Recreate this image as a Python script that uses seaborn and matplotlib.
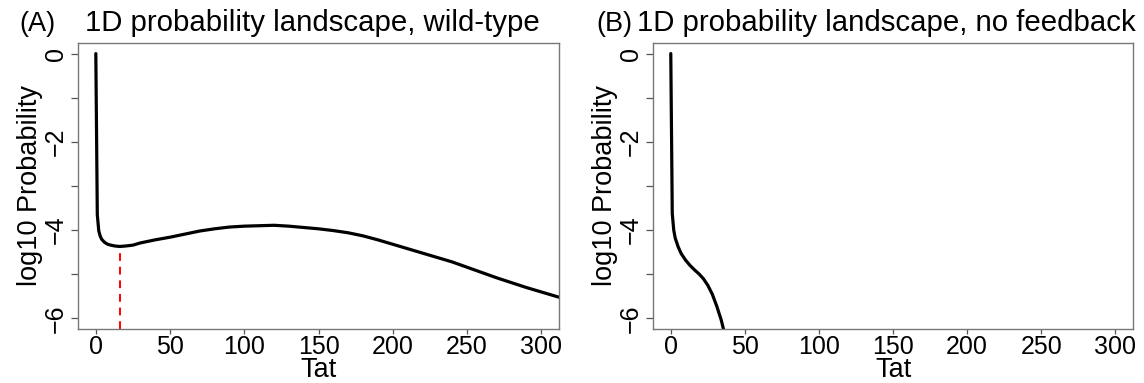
import numpy as np
import pandas as pd
import matplotlib
matplotlib.use("Agg")
import matplotlib.pyplot as plt
import seaborn as sns

# ---- data ----
wt_tat = [0, 1, 2, 3, 4, 6, 8, 10, 13, 16, 20, 25, 30, 40, 50, 60, 70, 80, 90, 100,
          110, 120, 130, 140, 150, 160, 170, 180, 190, 200, 210, 220, 230, 240, 250,
          260, 270, 280, 290, 300, 312]
wt_logp = [0.0, -3.65, -4.02, -4.14, -4.21, -4.28, -4.32, -4.34, -4.36, -4.37, -4.36,
           -4.34, -4.29, -4.22, -4.16, -4.09, -4.02, -3.97, -3.93, -3.91, -3.90, -3.89,
           -3.91, -3.94, -3.97, -4.01, -4.06, -4.13, -4.22, -4.32, -4.42, -4.52, -4.62,
           -4.72, -4.84, -4.96, -5.08, -5.19, -5.30, -5.40, -5.52]

nf_tat = [0, 1, 2, 3, 5, 7, 10, 13, 16, 19, 22, 25, 28, 31, 34, 36]
nf_logp = [0.0, -3.62, -4.00, -4.18, -4.38, -4.53, -4.68, -4.80, -4.90, -4.99, -5.10,
           -5.25, -5.45, -5.72, -6.03, -6.30]

panel_tags = ["(A)", "(B)"]
titles = ["1D probability landscape, wild-type",
          "1D probability landscape, no feedback"]
x_ticks = [0, 50, 100, 150, 200, 250, 300]
y_ticks = [-6, -5, -4, -3, -2, -1, 0]
y_ticklabels = ["\u22126", "", "\u22124", "", "\u22122", "", "0"]
x_label = "Tat"
y_label = "log10 Probability"

# ---- style ----
sns.set_theme(style="white")
plt.rcParams["font.family"] = ["Liberation Sans", "DejaVu Sans"]
for k in ["text.color", "axes.labelcolor", "xtick.color", "ytick.color"]:
    plt.rcParams[k] = "black"
FS_TICK = 18
FS_LAB = 19.5
FS_TITLE = 21.2
FS_TAG = 19.5

fig = plt.figure(figsize=(11.44, 3.83), dpi=100)
W, H = 1144, 383
ax_a = fig.add_axes([78 / W, (H - 329) / H, (559 - 78) / W, (329 - 43) / H])
ax_b = fig.add_axes([653 / W, (H - 329) / H, (1133 - 653) / W, (329 - 43) / H])

df_a = pd.DataFrame({"Tat": wt_tat, "logp": wt_logp})
df_b = pd.DataFrame({"Tat": nf_tat, "logp": nf_logp})

XL = (-12, 312)
YL = (-6.24, 0.24)

for ax, df in [(ax_a, df_a), (ax_b, df_b)]:
    sns.lineplot(data=df, x="Tat", y="logp", ax=ax, color="black", lw=2.3,
                 sort=False, estimator=None)
    ax.set_xlim(*XL)
    ax.set_ylim(*YL)
    ax.set_xticks(x_ticks)
    ax.set_xticklabels([str(t) for t in x_ticks], fontsize=FS_TICK)
    ax.set_yticks(y_ticks)
    ax.set_yticklabels(y_ticklabels, fontsize=FS_TICK, rotation=90, va="center")
    ax.tick_params(axis="both", direction="out", width=0.9,
                   color="#555555", left=True, bottom=True)
    ax.tick_params(axis="x", length=3.5, pad=0.5)
    ax.tick_params(axis="y", length=5, pad=2.5)
    ax.set_xlabel(x_label, fontsize=FS_LAB, va="center")
    ax.xaxis.set_label_coords(0.5, -0.143)
    ax.set_ylabel(y_label, fontsize=FS_LAB, va="center")
    ax.yaxis.set_label_coords(-0.099, 0.5)
    for s in ax.spines.values():
        s.set_visible(True)
        s.set_color("#777777")
        s.set_linewidth(1.0)
    ax.set_facecolor("white")

# titles
base = 1 - 31 / H
fig.text(19 / W, base, panel_tags[0], fontsize=FS_TAG, ha="left", va="baseline")
fig.text(85 / W, base, titles[0], fontsize=FS_TITLE, ha="left", va="baseline")
fig.text(596 / W, base, panel_tags[1], fontsize=FS_TAG, ha="left", va="baseline")
fig.text(637 / W, base, titles[1], fontsize=FS_TITLE, ha="left", va="baseline")

# red dashed line at the wild-type local minimum
vals = df_a["logp"].values
imin = int(np.argmax(np.diff(vals) > 0))
ax_a.vlines(df_a["Tat"].values[imin], YL[0], vals[imin],
            colors="red", linestyles=(0, (4, 3)), lw=1.4, zorder=1)

fig.savefig("out.png", dpi=100, facecolor="white")
